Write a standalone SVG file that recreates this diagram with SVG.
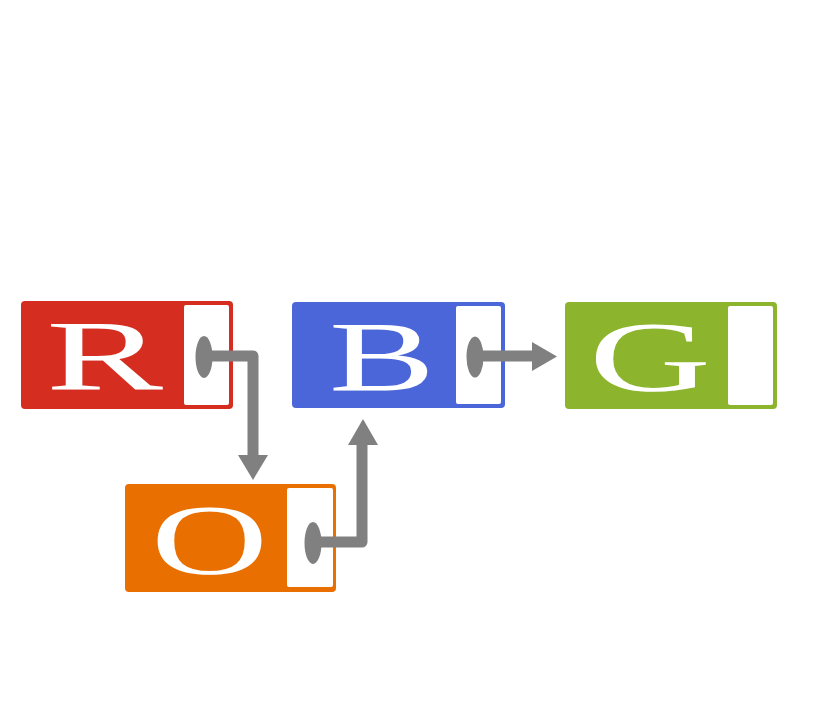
<svg xmlns="http://www.w3.org/2000/svg" width="834" height="711" viewBox="0 0 834 711">
<defs>
<style>
.lbl{font-family:"Liberation Serif","Times New Roman",serif;font-size:100px;fill:#fff}
.ptr{fill:#fff}
.conn{fill:none;stroke:#808080;stroke-width:11;stroke-linejoin:round}
.dot{fill:#808080}
.head{fill:#808080}
</style>
</defs>
<rect width="834" height="711" fill="#fff"/>
<g id="node-R">
<rect x="21" y="301" width="212" height="108" rx="4" fill="#d52e20"/>
<rect class="ptr" x="184" y="305" width="45" height="100" rx="2"/>
<text class="lbl" x="46" y="389" textLength="117" lengthAdjust="spacingAndGlyphs">R</text>
</g>
<g id="node-B">
<rect x="292" y="302" width="213" height="106" rx="4" fill="#4a66d9"/>
<rect class="ptr" x="456" y="306" width="45" height="98" rx="2"/>
<text class="lbl" x="329" y="390" textLength="106" lengthAdjust="spacingAndGlyphs">B</text>
</g>
<g id="node-G">
<rect x="565" y="302" width="212" height="107" rx="4" fill="#8cb42c"/>
<rect class="ptr" x="728" y="306" width="45" height="99" rx="2"/>
<text class="lbl" x="589" y="390" textLength="122" lengthAdjust="spacingAndGlyphs">G</text>
</g>
<g id="node-O">
<rect x="125" y="484" width="211" height="108" rx="4" fill="#e97000"/>
<rect class="ptr" x="287" y="488" width="46" height="99" rx="2"/>
<text class="lbl" x="151" y="573" textLength="117" lengthAdjust="spacingAndGlyphs">O</text>
</g>
<g id="connectors">
<ellipse class="dot" cx="204" cy="357" rx="8.5" ry="21"/>
<path class="conn" d="M204 356 H253 V458"/>
<polygon class="head" points="238,455 268,455 253,480"/>
<ellipse class="dot" cx="313" cy="543" rx="8.5" ry="21"/>
<path class="conn" d="M313 542 H362 V442"/>
<polygon class="head" points="348,445 378,445 363,419"/>
<ellipse class="dot" cx="475" cy="357" rx="8.5" ry="20.5"/>
<path class="conn" d="M475 356 H535"/>
<polygon class="head" points="532,342 532,371 557,356.5"/>
</g>
</svg>
